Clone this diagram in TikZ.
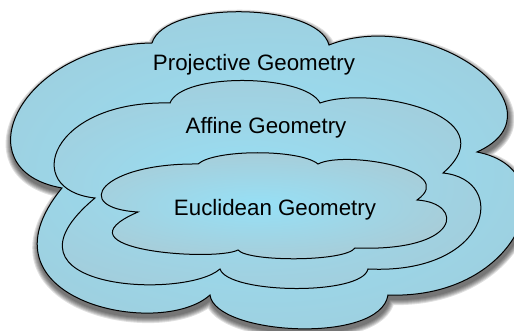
\documentclass[tikz,border=0pt]{standalone}
\usepackage{fontspec}
\setmainfont{Liberation Sans}

\definecolor{cloudin}{RGB}{150,224,246}
\definecolor{projout}{RGB}{164,196,207}
\definecolor{affout}{RGB}{171,193,202}
\definecolor{euclout}{RGB}{180,191,195}
\pgfdeclareradialshading{projglow}{\pgfpoint{0bp}{0bp}}{color(0bp)=(cloudin); color(42bp)=(projout); color(50bp)=(projout)}
\pgfdeclareradialshading{affglow}{\pgfpoint{0bp}{0bp}}{color(0bp)=(cloudin); color(42bp)=(affout); color(50bp)=(affout)}
\pgfdeclareradialshading{euclglow}{\pgfpoint{0bp}{0bp}}{color(0bp)=(cloudin); color(42bp)=(euclout); color(50bp)=(euclout)}

% outlines of the three clouds
\newcommand{\projcloud}{(152,43) .. controls (165,0) and (318,2) .. (329,45)
  .. controls (430,5) and (570,110) .. (477,152)
  .. controls (570,170) and (520,300) .. (388,295)
  .. controls (380,345) and (215,335) .. (210,295)
  .. controls (160,340) and (-30,300) .. (62,188)
  .. controls (-40,170) and (20,45) .. (152,43) -- cycle}
\newcommand{\affcloud}{(170,103) .. controls (182,72) and (305,74) .. (320,103)
  .. controls (370,85) and (510,115) .. (443,173)
  .. controls (510,180) and (490,275) .. (368,269)
  .. controls (362,296) and (228,294) .. (220,269)
  .. controls (185,300) and (-15,290) .. (95,198)
  .. controls (20,190) and (50,100) .. (170,103) -- cycle}
\newcommand{\euclcloud}{(198,164) .. controls (215,149) and (300,149) .. (318,164)
  .. controls (345,150) and (460,170) .. (417,200)
  .. controls (465,203) and (462,252) .. (355,248)
  .. controls (345,262) and (248,262) .. (238,250)
  .. controls (215,262) and (50,250) .. (138,212)
  .. controls (70,208) and (100,163) .. (198,164) -- cycle}

\begin{document}
\begin{tikzpicture}[x=1pt,y=-1pt]
  \tikzset{cloudpart/.style={draw=black, line width=1pt}}
  \tikzset{cloudlabel/.style={font=\fontsize{22.3}{26}\selectfont, anchor=base, inner sep=0pt}}
  \useasboundingbox (0,0) rectangle (514,331);

  % soft shadow under the outer cloud
  \foreach \w in {12,10,8,6,4,2} {
    \begin{scope}[transparency group, opacity=0.12, shift={(1,4)}]
      \filldraw[black, line width=\w pt, line join=round] \projcloud;
    \end{scope}
  }

  \path[cloudpart, shading=projglow] \projcloud;
  \path[cloudpart, shading=affglow] \affcloud;
  \path[cloudpart, shading=euclglow] \euclcloud;

  \node[cloudlabel] (proj) at (254,70.3) {Projective Geometry};
  \node[cloudlabel] (aff) at (266,134) {Affine Geometry};
  \node[cloudlabel] (eucl) at (275,215) {Euclidean Geometry};
\end{tikzpicture}
\end{document}
